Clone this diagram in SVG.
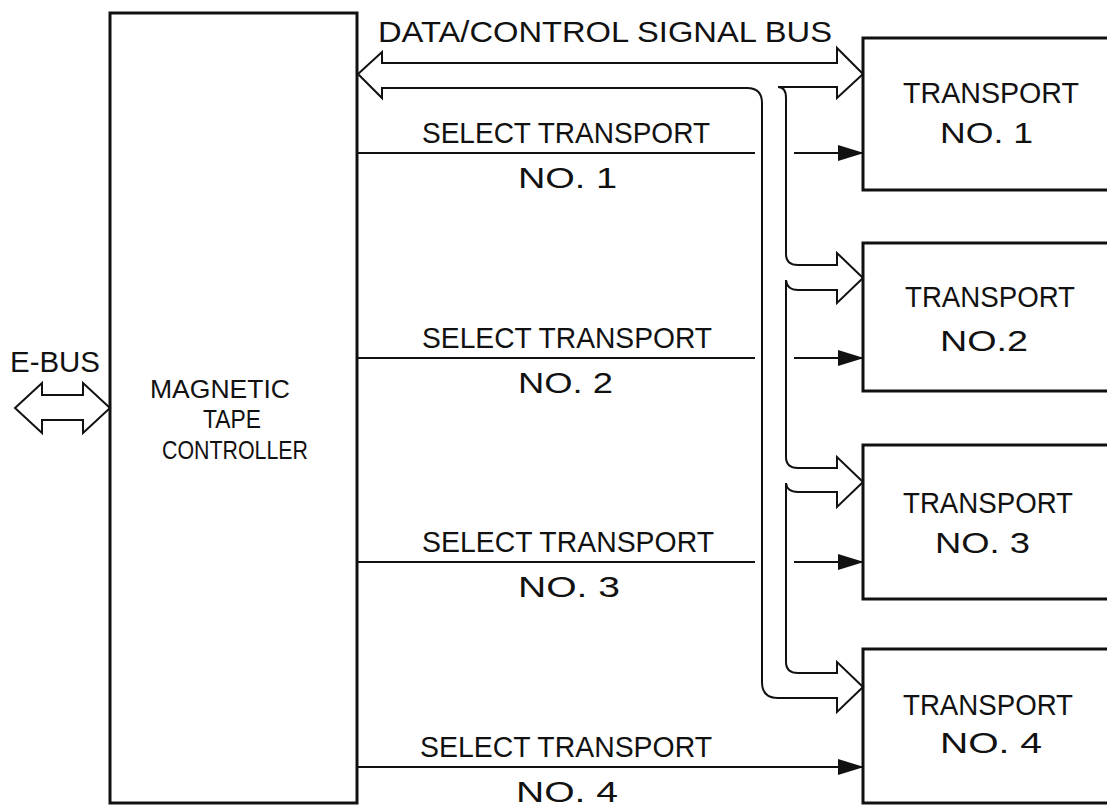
<svg xmlns="http://www.w3.org/2000/svg" width="1107" height="806" viewBox="0 0 1107 806">
  <style>
    .box { fill: #fff; stroke: #111; stroke-width: 3; }
    .bus { fill: none; stroke: #111; stroke-width: 2; stroke-linejoin: miter; }
    .sel { fill: none; stroke: #111; stroke-width: 1.8; }
    .t { font-family: "Liberation Sans", Arial, sans-serif; font-size: 30px; fill: #111; }
    .c { font-size: 26px; }
  </style>
  <defs>
    <marker id="solid" viewBox="0 0 26 18" refX="25" refY="9" markerWidth="26" markerHeight="18" markerUnits="userSpaceOnUse" orient="auto">
      <path d="M0,1 L26,9 L0,17 Z" fill="#111"/>
    </marker>
  </defs>
  <rect width="1107" height="806" fill="#fff"/>

  <!-- controller -->
  <g id="controller">
    <rect class="box" x="110" y="13" width="247" height="790"/>
    <text class="t c" x="150" y="398" textLength="140" lengthAdjust="spacingAndGlyphs">MAGNETIC</text>
    <text class="t c" x="203" y="428" textLength="58" lengthAdjust="spacingAndGlyphs">TAPE</text>
    <text class="t c" x="162" y="459" textLength="146" lengthAdjust="spacingAndGlyphs">CONTROLLER</text>
  </g>

  <!-- tape transports -->
  <g id="transport1">
    <rect class="box" x="863" y="38" width="260" height="152"/>
    <text class="t" x="903" y="103" textLength="176" lengthAdjust="spacingAndGlyphs">TRANSPORT</text>
    <text class="t" x="940" y="143" textLength="93" lengthAdjust="spacingAndGlyphs">NO. 1</text>
  </g>
  <g id="transport2">
    <rect class="box" x="863" y="243" width="260" height="148"/>
    <text class="t" x="905" y="307" textLength="170" lengthAdjust="spacingAndGlyphs">TRANSPORT</text>
    <text class="t" x="940" y="351" textLength="88" lengthAdjust="spacingAndGlyphs">NO.2</text>
  </g>
  <g id="transport3">
    <rect class="box" x="863" y="445" width="260" height="154"/>
    <text class="t" x="903" y="513" textLength="170" lengthAdjust="spacingAndGlyphs">TRANSPORT</text>
    <text class="t" x="935" y="553" textLength="95" lengthAdjust="spacingAndGlyphs">NO. 3</text>
  </g>
  <g id="transport4">
    <rect class="box" x="863" y="649" width="260" height="154"/>
    <text class="t" x="903" y="715" textLength="170" lengthAdjust="spacingAndGlyphs">TRANSPORT</text>
    <text class="t" x="940" y="753" textLength="102" lengthAdjust="spacingAndGlyphs">NO. 4</text>
  </g>

  <g id="connectors">
    <!-- E-BUS double arrow -->
    <path class="bus" d="M42,395 H83 V383 L110,408 L83,433 V420 H42 V433 L15,408 L42,383 Z"/>
    <text class="t" x="10" y="372" textLength="90" lengthAdjust="spacingAndGlyphs">E-BUS</text>

    <!-- data/control signal bus with its taps to each transport -->
    <path class="bus" d="M382,63 H837 V48 L863,74 L837,98 V87 H778 Q786,87 786,98 V254 Q786,265 798,265 H837 V253 L863,278 L837,303 V290 H798 Q787,290 786,280 V457 Q786,468 798,468 H837 V457 L863,482 L837,507 V492 H798 Q787,492 786,483 V662 Q786,673 798,673 H837 V662 L863,687 L837,712 V698 H778 Q762,698 762,682 V103 Q762,88 747,88 H382 V98 L358,74 L382,52 Z"/>
    <text class="t" x="378" y="42" textLength="454" lengthAdjust="spacingAndGlyphs">DATA/CONTROL SIGNAL BUS</text>

    <!-- select lines -->
    <path class="sel" d="M357,153 H755"/>
    <path class="sel" d="M794,153 H863" marker-end="url(#solid)"/>
    <text class="t" x="422" y="143" textLength="288" lengthAdjust="spacingAndGlyphs">SELECT TRANSPORT</text>
    <text class="t" x="518" y="188" textLength="99" lengthAdjust="spacingAndGlyphs">NO. 1</text>

    <path class="sel" d="M357,358 H755"/>
    <path class="sel" d="M794,358 H863" marker-end="url(#solid)"/>
    <text class="t" x="422" y="348" textLength="290" lengthAdjust="spacingAndGlyphs">SELECT TRANSPORT</text>
    <text class="t" x="518" y="393" textLength="95" lengthAdjust="spacingAndGlyphs">NO. 2</text>

    <path class="sel" d="M357,562 H755"/>
    <path class="sel" d="M794,562 H863" marker-end="url(#solid)"/>
    <text class="t" x="422" y="552" textLength="292" lengthAdjust="spacingAndGlyphs">SELECT TRANSPORT</text>
    <text class="t" x="518" y="597" textLength="102" lengthAdjust="spacingAndGlyphs">NO. 3</text>

    <path class="sel" d="M357,767 H863" marker-end="url(#solid)"/>
    <text class="t" x="420" y="757" textLength="292" lengthAdjust="spacingAndGlyphs">SELECT TRANSPORT</text>
    <text class="t" x="516" y="802" textLength="102" lengthAdjust="spacingAndGlyphs">NO. 4</text>
  </g>
</svg>
